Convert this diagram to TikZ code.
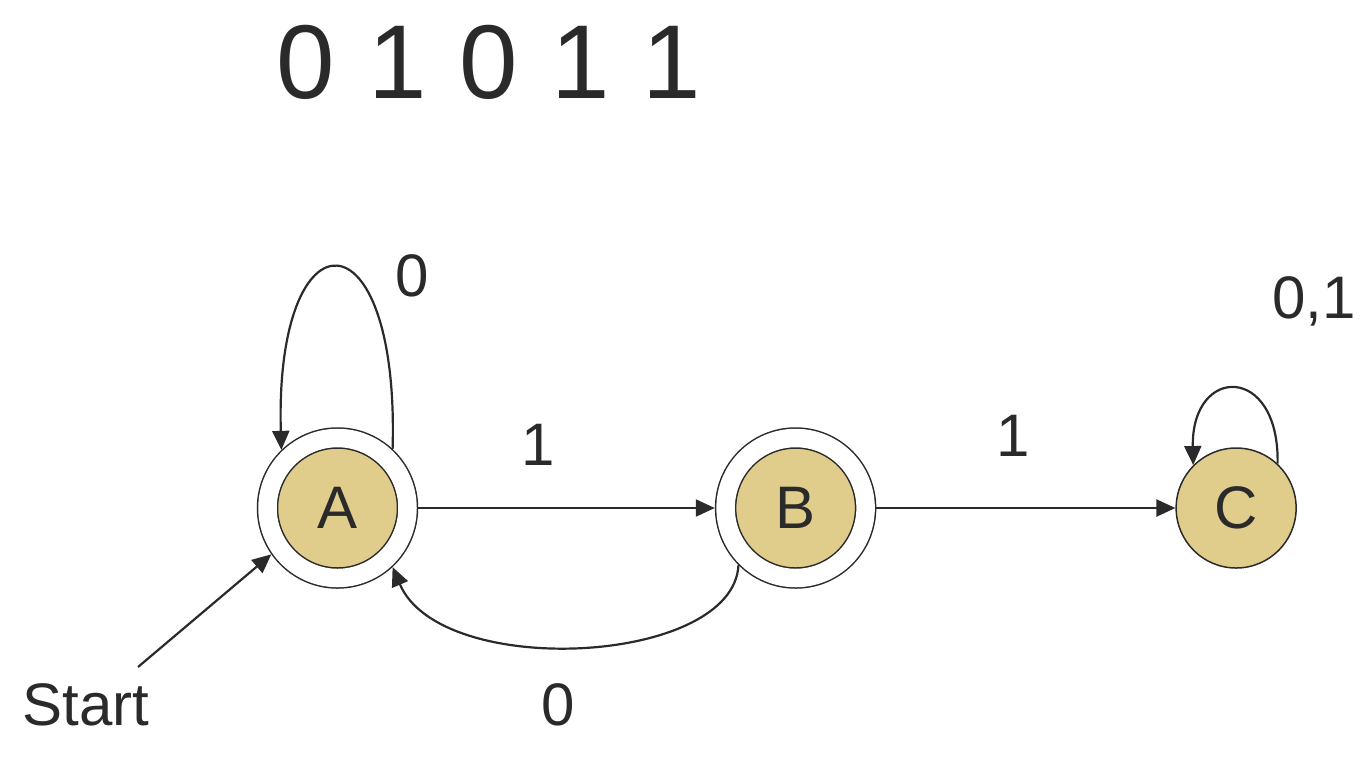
\documentclass[tikz,border=0pt]{standalone}
\usepackage{fontspec}
\setmainfont{Liberation Sans}
\usetikzlibrary{arrows.meta,positioning}
\definecolor{dfaink}{HTML}{2A2A2A}
\definecolor{dfafill}{HTML}{E1CD8B}

\begin{document}
\begin{tikzpicture}[
  x=0.5pt, y=-0.5pt,
  font=\fontsize{30}{36}\selectfont,
  text=dfaink,
  state/.style={circle, draw=dfaink, fill=dfafill, line width=0.75pt,
                minimum size=60pt, inner sep=0pt},
  accept/.style={state, minimum size=70pt, double=white,
                 double distance=9.25pt, outer sep=5.4pt},
  lbl/.style={inner sep=0pt},
  arrow/.style={-{Triangle[length=9.5pt,width=8.5pt]}, line width=1.1pt, draw=dfaink}
]
\useasboundingbox (0,0) rectangle (1366,768);

\node[lbl] (word) at (489,62) {\fontsize{52.5}{60}\selectfont\spaceskip=16.6pt 0 1 0 1 1};

\node[accept] (A) at (337.5,508) {A};
\node[accept, right=148.25pt of A] (B) {B};
\node[state, right=149.5pt of B] (C) {C};

\node[lbl] (startlbl) at (86,705) {Start};
\coordinate (startpt) at (138,667);

\node[lbl] (lab0a) at (412,276) {0};
\node[lbl] (lab1a) at (538,445) {1};
\node[lbl] (lab1b) at (1013,436) {1};
\node[lbl] (lab0b) at (558,705) {0};
\node[lbl, anchor=base] (lab01) at (1314,318) {0,1};

\draw[arrow] (A) -- (B);
\draw[arrow] (B) -- (C);
\draw[arrow] (B.225) .. controls +(-5,100) and +(48,113) .. (A.313);
\draw[arrow] (A.47) .. controls +(7,-242) and +(-7,-242) .. (A.134);
\draw[arrow] (C.47) .. controls +(2,-100) and +(-2,-100) .. (C.135);
\draw[arrow] (startpt) -- (A.215);
\end{tikzpicture}
\end{document}
